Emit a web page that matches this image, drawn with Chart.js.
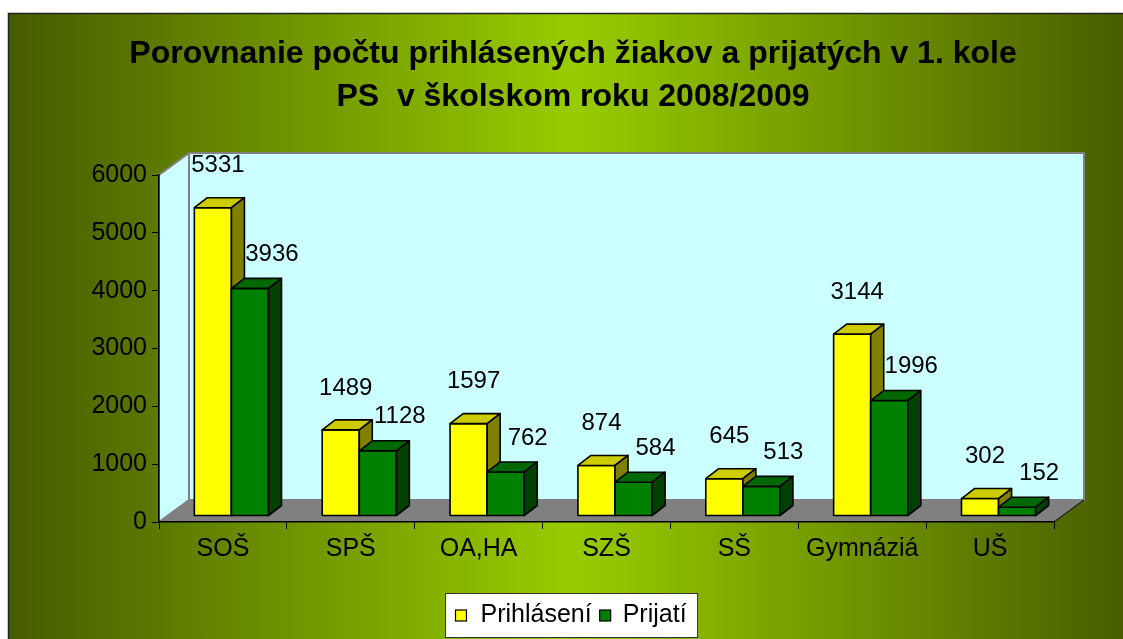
<!DOCTYPE html>
<html>
<head>
<meta charset="utf-8">
<script src="https://cdn.jsdelivr.net/npm/chart.js@4.4.1/dist/chart.umd.min.js"></script>
<style>
html,body{margin:0;padding:0;background:#fff;overflow:hidden;}
canvas{display:block;}
</style>
</head>
<body>
<canvas id="c" width="1123" height="639"></canvas>
<script>
// ---- data ----
const categories = ['SOŠ', 'SPŠ', 'OA,HA', 'SZŠ', 'SŠ', 'Gymnáziá', 'UŠ'];
const prihlaseni = [5331, 1489, 1597, 874, 645, 3144, 302];
const prijati = [3936, 1128, 762, 584, 513, 1996, 152];
const seriesNames = ['Prihlásení', 'Prijatí'];
const titleLines = ['Porovnanie počtu prihlásených žiakov a prijatých v 1. kole', 'PS  v školskom roku 2008/2009'];
const yMax = 6000;
const yStep = 1000;

// ---- style ----
const FONT = 'Liberation Sans, Arial, sans-serif';
Chart.defaults.font.family = FONT;
const shades = [
  {front: '#FFFF00', top: '#CCCC00', side: '#808000'},
  {front: '#008000', top: '#006800', side: '#004000'}
];
const WALL = {x: 30, y: -22};      // depth of chart floor / walls
const PLACE = {x: 8.5, y: -6};     // where bars sit inside the depth
const BAR = {x: 13, y: -10};       // bar depth
const LABEL_OFF = [{x: 5, y: -42}, {x: 22, y: -34}];

const threeD = {
  id: 'threeD',
  beforeDraw(chart) {
    const ctx = chart.ctx;
    const W = chart.width, H = chart.height;
    ctx.save();
    ctx.fillStyle = '#fff';
    ctx.fillRect(0, 0, W, H);
    const g = ctx.createLinearGradient(8, 0, 1138, 0);
    g.addColorStop(0, '#465b00');
    g.addColorStop(0.5, '#99cc00');
    g.addColorStop(1, '#465b00');
    ctx.fillStyle = g;
    ctx.fillRect(8, 13, W - 8, H - 13);
    ctx.strokeStyle = '#222';
    ctx.lineWidth = 1.5;
    ctx.beginPath();
    ctx.moveTo(8.5, H); ctx.lineTo(8.5, 13.5); ctx.lineTo(W, 13.5);
    ctx.stroke();

    const a = chart.chartArea;
    const L = a.left, R = a.right, T = a.top, B = a.bottom;
    // back wall
    ctx.fillStyle = '#CCFFFF';
    ctx.fillRect(L + WALL.x, T + WALL.y, R - L, B - T);
    ctx.strokeStyle = '#808080';
    ctx.lineWidth = 2;
    ctx.strokeRect(L + WALL.x, T + WALL.y, R - L, B - T);
    // left wall
    ctx.beginPath();
    ctx.moveTo(L, T); ctx.lineTo(L + WALL.x, T + WALL.y);
    ctx.lineTo(L + WALL.x, B + WALL.y); ctx.lineTo(L, B); ctx.closePath();
    ctx.fillStyle = '#CCFFFF';
    ctx.fill();
    ctx.stroke();
    // floor
    ctx.beginPath();
    ctx.moveTo(L, B); ctx.lineTo(R, B);
    ctx.lineTo(R + WALL.x, B + WALL.y); ctx.lineTo(L + WALL.x, B + WALL.y); ctx.closePath();
    ctx.fillStyle = '#808080';
    ctx.fill();
    ctx.strokeStyle = '#222';
    ctx.lineWidth = 1.2;
    ctx.beginPath();
    ctx.moveTo(R, B); ctx.lineTo(R + WALL.x, B + WALL.y);
    ctx.stroke();
    ctx.restore();
  },
  beforeDatasetsDraw(chart) {
    const ctx = chart.ctx;
    ctx.save();
    ctx.lineWidth = 1.6;
    ctx.lineJoin = 'round';
    ctx.strokeStyle = '#000';
    const n = chart.data.labels.length;
    const metas = chart.data.datasets.map((d, i) => chart.getDatasetMeta(i));
    for (let j = 0; j < n; j++) {
      metas.forEach((meta, i) => {
        const el = meta.data[j];
        const s = shades[i];
        const l = el.x - el.width / 2 + PLACE.x;
        const r = el.x + el.width / 2 + PLACE.x;
        const t = el.y + PLACE.y;
        const b = el.base + PLACE.y;
        ctx.fillStyle = s.front;
        ctx.beginPath(); ctx.rect(l, t, r - l, b - t); ctx.fill(); ctx.stroke();
        ctx.fillStyle = s.top;
        ctx.beginPath();
        ctx.moveTo(l, t); ctx.lineTo(l + BAR.x, t + BAR.y); ctx.lineTo(r + BAR.x, t + BAR.y); ctx.lineTo(r, t); ctx.closePath();
        ctx.fill(); ctx.stroke();
        ctx.fillStyle = s.side;
        ctx.beginPath();
        ctx.moveTo(r, t); ctx.lineTo(r + BAR.x, t + BAR.y); ctx.lineTo(r + BAR.x, b + BAR.y); ctx.lineTo(r, b); ctx.closePath();
        ctx.fill(); ctx.stroke();
      });
    }
    ctx.fillStyle = '#000';
    ctx.font = '24px ' + FONT;
    ctx.textAlign = 'center';
    ctx.textBaseline = 'middle';
    metas.forEach((meta, i) => {
      meta.data.forEach((el, j) => {
        const v = chart.data.datasets[i].data[j];
        ctx.fillText(String(v), el.x + PLACE.x + LABEL_OFF[i].x, el.y + PLACE.y + LABEL_OFF[i].y);
      });
    });
    ctx.restore();
    return false;
  },
  afterDraw(chart) {
    const ctx = chart.ctx;
    ctx.save();
    ctx.font = '25px ' + FONT;
    const ds = chart.data.datasets;
    const widths = ds.map(d => ctx.measureText(d.label).width);
    const total = 10 + 11 + 14 + widths[0] + 8 + 11 + 12 + widths[1] + 11;
    const cx = 571, top = 593, h = 44;
    const left = Math.round(cx - total / 2) + 0.5;
    ctx.fillStyle = '#fff';
    ctx.fillRect(left, top + 0.5, total, h);
    ctx.strokeStyle = '#333';
    ctx.lineWidth = 1;
    ctx.strokeRect(left, top + 0.5, total, h);
    let x = left + 10;
    const cy = top + h / 2 + 0.5;
    ds.forEach((d, i) => {
      ctx.fillStyle = shades[i].front;
      ctx.fillRect(x, cy - 5.5, 11, 11);
      ctx.strokeStyle = '#000';
      ctx.lineWidth = 1.2;
      ctx.strokeRect(x, cy - 5.5, 11, 11);
      x += 11 + (i === 0 ? 14 : 12);
      ctx.fillStyle = '#000';
      ctx.textAlign = 'left';
      ctx.textBaseline = 'middle';
      ctx.fillText(d.label, x, cy);
      x += widths[i] + 8;
    });
    ctx.restore();
  }
};

new Chart(document.getElementById('c'), {
  type: 'bar',
  data: {
    labels: categories,
    datasets: [
      {label: seriesNames[0], data: prihlaseni, backgroundColor: shades[0].front},
      {label: seriesNames[1], data: prijati, backgroundColor: shades[1].front}
    ]
  },
  options: {
    responsive: false,
    devicePixelRatio: 1,
    animation: false,
    categoryPercentage: 0.58,
    barPercentage: 1.0,
    layout: {padding: {left: 92, right: 69, top: 0, bottom: 72}},
    plugins: {
      legend: {display: false},
      tooltip: {enabled: false},
      title: {
        display: true,
        text: titleLines,
        color: '#000',
        font: {size: 32, weight: 'bold', family: FONT, lineHeight: 43 / 32},
        padding: {top: 32.5, bottom: 56.5}
      }
    },
    scales: {
      x: {
        offset: true,
        grid: {offset: true, drawOnChartArea: false, drawTicks: true, tickLength: 7, color: '#000'},
        border: {display: true, color: '#000', width: 1.5},
        ticks: {color: '#000', font: {size: 25}, padding: 5, maxRotation: 0, autoSkip: false},
        afterFit: s => { s.height = 45; }
      },
      y: {
        min: 0,
        max: yMax,
        grid: {drawOnChartArea: false, drawTicks: true, tickLength: 7, color: '#000'},
        border: {display: true, color: '#000', width: 1.5},
        ticks: {stepSize: yStep, color: '#000', font: {size: 25}, padding: 5, callback: v => String(v)},
        afterFit: s => { s.width = 67; }
      }
    }
  },
  plugins: [threeD]
});
</script>
</body>
</html>
